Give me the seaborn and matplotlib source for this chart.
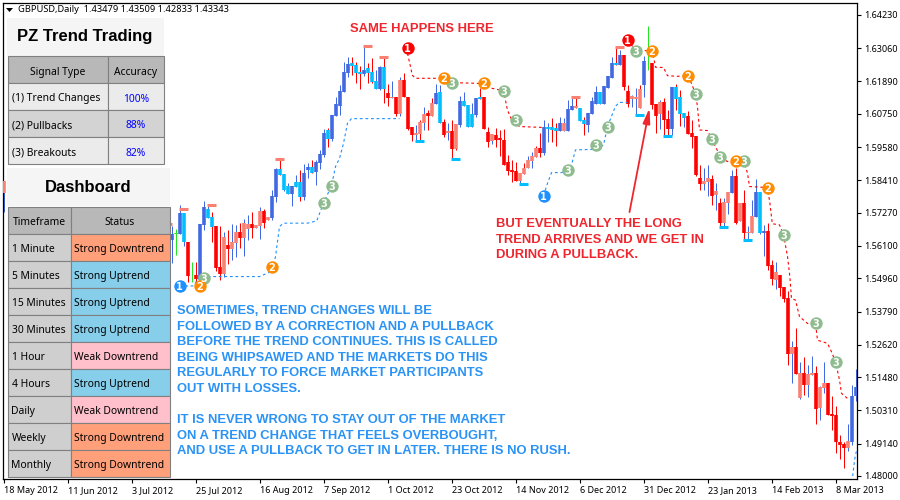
import matplotlib
matplotlib.use('Agg')
import matplotlib.pyplot as plt
from matplotlib.patches import Rectangle, Polygon
import numpy as np
import pandas as pd
import seaborn as sns

# bars are numbered from the first tick label, only the visible ones are listed
bar_pos = [0] + list(range(42, 214))
body_top = [1.5838,
    1.5652, 1.5654, 1.5726, 1.5726, 1.5624, 1.5505, 1.5507, 1.5687, 1.5747, 1.5739,
    1.5712, 1.5680, 1.5536, 1.5642, 1.5613, 1.5624, 1.5659, 1.5659, 1.5691, 1.5687,
    1.5687, 1.5684, 1.5733, 1.5733, 1.5712, 1.5786, 1.5881, 1.5881, 1.5863, 1.5821,
    1.5821, 1.5835, 1.5835, 1.5867, 1.5888, 1.5888, 1.5905, 1.5934, 1.6008, 1.6018,
    1.6071, 1.6110, 1.6155, 1.6222, 1.6250, 1.6254, 1.6247, 1.6222, 1.6229, 1.6236,
    1.6222, 1.6191, 1.6240, 1.6240, 1.6148, 1.6134, 1.6134, 1.6194, 1.6194, 1.6133,
    1.6028, 1.6007, 1.6046, 1.6074, 1.6078, 1.6112, 1.6148, 1.6152, 1.6046, 1.6014,
    1.6014, 1.6039, 1.6120, 1.6120, 1.6106, 1.6074, 1.6131, 1.6134, 1.6134, 1.6011,
    1.6004, 1.6000, 1.5990, 1.5983, 1.5905, 1.5877, 1.5874, 1.5867, 1.5884, 1.5912,
    1.5926, 1.5955, 1.5955, 1.6028, 1.6028, 1.6028, 1.6025, 1.6043, 1.6043, 1.6092,
    1.6102, 1.6102, 1.6095, 1.6053, 1.6078, 1.6120, 1.6152, 1.6152, 1.6173, 1.6208,
    1.6254, 1.6254, 1.6282, 1.6282, 1.6155, 1.6138, 1.6135, 1.6162, 1.6261, 1.6252,
    1.6254, 1.6110, 1.6117, 1.6117, 1.6057, 1.6170, 1.6170, 1.6134, 1.6078, 1.6068,
    1.6008, 1.5997, 1.5849, 1.5839, 1.5849, 1.5846, 1.5804, 1.5761, 1.5765, 1.5800,
    1.5856, 1.5856, 1.5761, 1.5761, 1.5659, 1.5716, 1.5800, 1.5800, 1.5663, 1.5663,
    1.5542, 1.5518, 1.5507, 1.5465, 1.5426, 1.5254, 1.5254, 1.5162, 1.5162, 1.5159,
    1.5162, 1.5162, 1.5113, 1.5127, 1.5127, 1.5018, 1.5015, 1.4920, 1.4912, 1.4923,
    1.5081, 1.5113]
body_bottom = [1.5796,
    1.5631, 1.5653, 1.5652, 1.5622, 1.5504, 1.5504, 1.5493, 1.5490, 1.5684, 1.5708,
    1.5678, 1.5531, 1.5511, 1.5511, 1.5599, 1.5599, 1.5620, 1.5638, 1.5638, 1.5670,
    1.5673, 1.5673, 1.5680, 1.5691, 1.5701, 1.5707, 1.5782, 1.5859, 1.5807, 1.5793,
    1.5793, 1.5818, 1.5782, 1.5782, 1.5877, 1.5867, 1.5870, 1.5902, 1.5930, 1.5986,
    1.5986, 1.6067, 1.6103, 1.6152, 1.6219, 1.6243, 1.6219, 1.6215, 1.6215, 1.6219,
    1.6187, 1.6162, 1.6162, 1.6162, 1.6131, 1.6130, 1.6074, 1.6074, 1.6134, 1.6021,
    1.6000, 1.6000, 1.6004, 1.6043, 1.6067, 1.6067, 1.6109, 1.6043, 1.6000, 1.6007,
    1.5951, 1.5951, 1.6036, 1.6102, 1.6028, 1.6028, 1.6071, 1.6127, 1.6021, 1.5976,
    1.5979, 1.5983, 1.5983, 1.5895, 1.5874, 1.5870, 1.5838, 1.5838, 1.5863, 1.5884,
    1.5909, 1.5923, 1.5937, 1.5937, 1.6021, 1.6018, 1.6014, 1.6014, 1.6014, 1.6014,
    1.6088, 1.6095, 1.6050, 1.6039, 1.6036, 1.6074, 1.6109, 1.6109, 1.6109, 1.6166,
    1.6201, 1.6247, 1.6247, 1.6169, 1.6109, 1.6127, 1.6128, 1.6095, 1.6176, 1.6251,
    1.6106, 1.6068, 1.6075, 1.6053, 1.6022, 1.6022, 1.6127, 1.6075, 1.6060, 1.6004,
    1.5994, 1.5860, 1.5828, 1.5828, 1.5835, 1.5786, 1.5790, 1.5691, 1.5691, 1.5761,
    1.5797, 1.5691, 1.5698, 1.5656, 1.5656, 1.5656, 1.5712, 1.5656, 1.5656, 1.5540,
    1.5493, 1.5490, 1.5461, 1.5423, 1.5229, 1.5229, 1.5159, 1.5074, 1.5120, 1.5120,
    1.5155, 1.5036, 1.5039, 1.5110, 1.5015, 1.5011, 1.4920, 1.4909, 1.4898, 1.4898,
    1.4920, 1.5081]
high = [1.5838,
    1.5680, 1.5669, 1.5754, 1.5726, 1.5624, 1.5552, 1.5552, 1.5687, 1.5767, 1.5754,
    1.5731, 1.5680, 1.5680, 1.5659, 1.5666, 1.5687, 1.5684, 1.5692, 1.5704, 1.5719,
    1.5730, 1.5684, 1.5747, 1.5740, 1.5712, 1.5807, 1.5884, 1.5917, 1.5863, 1.5830,
    1.5821, 1.5860, 1.5877, 1.5897, 1.5901, 1.5913, 1.5913, 1.5948, 1.6022, 1.6024,
    1.6071, 1.6135, 1.6176, 1.6257, 1.6274, 1.6276, 1.6257, 1.6243, 1.6314, 1.6253,
    1.6271, 1.6229, 1.6243, 1.6274, 1.6180, 1.6191, 1.6134, 1.6205, 1.6218, 1.6133,
    1.6028, 1.6036, 1.6053, 1.6098, 1.6088, 1.6129, 1.6180, 1.6176, 1.6055, 1.6041,
    1.6053, 1.6039, 1.6138, 1.6153, 1.6106, 1.6112, 1.6131, 1.6166, 1.6134, 1.6030,
    1.6004, 1.6024, 1.6018, 1.6020, 1.5930, 1.5912, 1.5906, 1.5867, 1.5902, 1.5926,
    1.5940, 1.5962, 1.6006, 1.6053, 1.6041, 1.6060, 1.6041, 1.6065, 1.6059, 1.6123,
    1.6129, 1.6133, 1.6095, 1.6065, 1.6078, 1.6133, 1.6174, 1.6152, 1.6173, 1.6208,
    1.6275, 1.6309, 1.6299, 1.6282, 1.6176, 1.6141, 1.6165, 1.6176, 1.6278, 1.6384,
    1.6254, 1.6110, 1.6124, 1.6130, 1.6089, 1.6170, 1.6180, 1.6159, 1.6078, 1.6086,
    1.6053, 1.5997, 1.5895, 1.5885, 1.5895, 1.5860, 1.5833, 1.5778, 1.5778, 1.5800,
    1.5878, 1.5883, 1.5761, 1.5807, 1.5680, 1.5772, 1.5845, 1.5800, 1.5684, 1.5692,
    1.5560, 1.5554, 1.5507, 1.5465, 1.5451, 1.5275, 1.5321, 1.5201, 1.5219, 1.5190,
    1.5222, 1.5187, 1.5117, 1.5201, 1.5127, 1.5081, 1.5046, 1.4944, 1.4920, 1.4983,
    1.5120, 1.5176]
low = [1.5729,
    1.5551, 1.5578, 1.5652, 1.5610, 1.5484, 1.5484, 1.5479, 1.5484, 1.5666, 1.5708,
    1.5624, 1.5520, 1.5490, 1.5502, 1.5547, 1.5561, 1.5572, 1.5602, 1.5575, 1.5631,
    1.5637, 1.5673, 1.5635, 1.5673, 1.5701, 1.5701, 1.5765, 1.5859, 1.5802, 1.5793,
    1.5752, 1.5818, 1.5768, 1.5772, 1.5849, 1.5867, 1.5825, 1.5881, 1.5924, 1.5959,
    1.5979, 1.6067, 1.6071, 1.6152, 1.6206, 1.6212, 1.6185, 1.6162, 1.6208, 1.6182,
    1.6182, 1.6162, 1.6159, 1.6114, 1.6103, 1.6130, 1.6067, 1.6067, 1.6134, 1.6018,
    1.5979, 1.5979, 1.5983, 1.6018, 1.6018, 1.6067, 1.6109, 1.6043, 1.5994, 1.5983,
    1.5912, 1.5948, 1.6027, 1.6102, 1.6028, 1.6028, 1.6065, 1.6127, 1.6021, 1.5959,
    1.5969, 1.5959, 1.5926, 1.5895, 1.5860, 1.5836, 1.5838, 1.5828, 1.5863, 1.5884,
    1.5883, 1.5923, 1.5924, 1.5930, 1.5977, 1.5977, 1.5962, 1.6014, 1.6014, 1.6014,
    1.6088, 1.6095, 1.6050, 1.6000, 1.6011, 1.6074, 1.6109, 1.6109, 1.6109, 1.6166,
    1.6201, 1.6247, 1.6247, 1.6159, 1.6098, 1.6100, 1.6071, 1.6095, 1.6135, 1.6229,
    1.6091, 1.6009, 1.6021, 1.6001, 1.5995, 1.6001, 1.6089, 1.6032, 1.6030, 1.6004,
    1.5955, 1.5856, 1.5805, 1.5807, 1.5784, 1.5754, 1.5737, 1.5680, 1.5680, 1.5723,
    1.5797, 1.5688, 1.5698, 1.5631, 1.5631, 1.5656, 1.5712, 1.5652, 1.5573, 1.5526,
    1.5472, 1.5458, 1.5433, 1.5412, 1.5190, 1.5127, 1.5159, 1.5071, 1.5085, 1.5078,
    1.5155, 1.4983, 1.4997, 1.5091, 1.5015, 1.4962, 1.4881, 1.4860, 1.4828, 1.4888,
    1.4909, 1.5064]
# b royal blue, c sky blue, r red, s salmon, g lime (doji)
body_kind = ('s'
    'bgbcrgrbbc' 'crrsrssrss' 'rssrsbbccc' 'bccbbcbbbc' 'bbbbbcccbc'
    'ccbcrsrsrr' 'rsssrsbcrs' 'rsbcccbcrr' 'srrrrrrsss' 'ssrbcccbsb'
    'bsccbbbcbb' 'bcbrrsssbg' 'rrsrrbcccr' 'rrrssrsrss' 'brsrssbcbr'
    'rsrrrsrsrs' 'srssrrrrrs' 'bb')
wick_kind = ('b'
    'bgbbrgrbbb' 'rrrbrbbrbb' 'rbbrrbbrbb' 'bbrbbrbbbr' 'bbbbbrrrbr'
    'rbbrrbrbrr' 'rbrbrrbbrb' 'rrbbbbbrrr' 'brrrrrrbrb' 'brrbbrrbbb'
    'brbrbbbbbb' 'brbrrbbrbg' 'rrbrrbrrbr' 'rrrbbrbrbb' 'brrrbbbbbr'
    'rbrrrbrbrb' 'brbbrrrrrb' 'bb')

top_mark_bar = [41, 45, 52, 69, 91, 95, 143, 154]
top_mark_price = [1.5686, 1.5739, 1.5753, 1.5915, 1.6314, 1.6274, 1.6134, 1.6309]
low_mark_bar = [104, 113, 130, 159, 166, 180, 186]
low_mark_price = [1.5978, 1.5915, 1.5828, 1.6070, 1.5996, 1.5676, 1.5630]

# trailing stops
blue_stop_bar = [44, 47.5, 49, 64, 67, 68, 69, 70, 76, 78.3, 80, 82, 83, 84, 85, 86, 87, 99]
blue_stop_price = [1.5469, 1.5469, 1.5502, 1.5502, 1.5520, 1.5572, 1.5678, 1.5690, 1.5690,
                   1.5698, 1.5760, 1.5822, 1.5889, 1.5918, 1.5971, 1.6042, 1.6058, 1.6058]
blue_stop2_bar = [135, 136, 137, 139.5, 141, 142, 143, 148, 150, 151, 153, 154, 156]
blue_stop2_price = [1.5787, 1.5830, 1.5868, 1.5868, 1.5877, 1.5895, 1.5948, 1.5950,
                    1.5965, 1.6030, 1.6102, 1.6115, 1.6115]
blue_stop3_bar = [212.3, 212.8, 213.3]
blue_stop3_price = [1.4800, 1.4860, 1.4892]
red_stop_bar = [101, 101.6, 102.2, 103, 108.4, 110, 112, 118.8, 120, 122, 125, 126, 127, 129, 135]
red_stop_price = [1.6288, 1.6250, 1.6211, 1.6200, 1.6200, 1.6196, 1.6185, 1.6182, 1.6185,
                  1.6165, 1.6156, 1.6088, 1.6055, 1.6030, 1.6027]
red_stop2_bar = [156, 157, 158, 162, 162.5, 163, 165, 166, 168.5, 171, 172, 173, 173.5, 174,
                 176, 177, 178.6, 179, 181, 183, 185, 186, 186.5, 189, 191, 191.6, 192.2, 194,
                 195, 196, 196.6, 197, 198, 199, 201, 203, 203.5, 206, 207, 208, 209, 209.5, 211]
red_stop2_price = [1.6335, 1.6317, 1.6299, 1.6296, 1.6276, 1.6239, 1.6238, 1.6209, 1.6207,
                   1.6208, 1.6182, 1.6145, 1.6100, 1.6018, 1.6016, 1.5987, 1.5942, 1.5922,
                   1.5907, 1.5910, 1.5910, 1.5866, 1.5819, 1.5817, 1.5815, 1.5760, 1.5688,
                   1.5684, 1.5649, 1.5573, 1.5500, 1.5425, 1.5419, 1.5361, 1.5337, 1.5337,
                   1.5278, 1.5267, 1.5237, 1.5202, 1.5138, 1.5091, 1.5073]

# signal circles
sig_blue_bar = [44, 135]
sig_blue_price = [1.5469, 1.5786]
sig_red_bar = [101, 156]
sig_red_price = [1.6307, 1.6335]
sig_orange_bar = [49, 67, 110, 120, 162, 171, 183, 191]
sig_orange_price = [1.5469, 1.5536, 1.6201, 1.6183, 1.6296, 1.6208, 1.5909, 1.5814]
sig_green_bar = [50, 80, 82, 112, 125, 128, 141, 148, 151, 158, 173, 177, 179, 185, 195, 203, 208]
sig_green_price = [1.5497, 1.5761, 1.5821, 1.6183, 1.6155, 1.6053, 1.5877, 1.5965, 1.6028,
                   1.6296, 1.6145, 1.5986, 1.5923, 1.5909, 1.5648, 1.5339, 1.5201]

arrow_tail = (156.5, 1.5729)
arrow_tip = (161.5, 1.6095)

price_ticks = [1.64230, 1.63060, 1.61890, 1.60750, 1.59580, 1.58410, 1.57270, 1.56100,
               1.54960, 1.53790, 1.52620, 1.51480, 1.50310, 1.49140, 1.48000]
date_ticks = list(range(0, 224, 16))
date_labels = ['18 May 2012', '11 Jun 2012', '3 Jul 2012', '25 Jul 2012', '16 Aug 2012',
               '7 Sep 2012', '1 Oct 2012', '23 Oct 2012', '14 Nov 2012', '6 Dec 2012',
               '31 Dec 2012', '23 Jan 2013', '14 Feb 2013', '8 Mar 2013']

header_text = 'GBPUSD,Daily  1.43479 1.43509 1.42833 1.43343'
accuracy_rows = ['(1) Trend Changes', '(2) Pullbacks', '(3) Breakouts']
accuracy_vals = ['100%', '88%', '82%']
dash_frames = ['1 Minute', '5 Minutes', '15 Minutes', '30 Minutes', '1 Hour', '4 Hours',
               'Daily', 'Weekly', 'Monthly']
dash_status = ['Strong Downtrend', 'Strong Uptrend', 'Strong Uptrend', 'Strong Uptrend',
               'Weak Downtrend', 'Strong Uptrend', 'Weak Downtrend', 'Strong Downtrend',
               'Strong Downtrend']
blue_note = ['SOMETIMES, TREND CHANGES WILL BE', 'FOLLOWED BY A CORRECTION AND A PULLBACK',
             'BEFORE THE TREND CONTINUES. THIS IS CALLED', 'BEING WHIPSAWED AND THE MARKETS DO THIS',
             'REGULARLY TO FORCE MARKET PARTICIPANTS', 'OUT WITH LOSSES.', '',
             'IT IS NEVER WRONG TO STAY OUT OF THE MARKET', 'ON A TREND CHANGE THAT FEELS OVERBOUGHT,',
             'AND USE A PULLBACK TO GET IN LATER. THERE IS NO RUSH.']
red_note = ['BUT EVENTUALLY THE LONG', 'TREND ARRIVES AND WE GET IN', 'DURING A PULLBACK.']

COLORS = {'b': '#4169E1', 'c': '#00BFFF', 'r': '#FF0000', 's': '#FA8072', 'g': '#22E622'}
STATUS_COLORS = {'Strong Downtrend': '#FFA07A', 'Strong Uptrend': '#87CEEB', 'Weak Downtrend': '#FFC0CB'}

sns.set_theme(style='white')
plt.rcParams['font.family'] = ['Noto Sans', 'DejaVu Sans']
UI_SIZE = 7.4
TICK_SIZE = 6.5

bars = pd.DataFrame({'bar': bar_pos, 'top': body_top, 'bottom': body_bottom, 'high': high, 'low': low,
                     'body': [COLORS[k] for k in body_kind], 'wick': [COLORS[k] for k in wick_kind]})

fig = plt.figure(figsize=(9, 5), dpi=100, facecolor='white')
ax = fig.add_axes([3 / 900, 1 - 479 / 500, 854 / 900, 476 / 500])

# wicks 1px, bodies a bit over 3px
ax.vlines(bars['bar'], bars['low'], bars['high'], colors=bars['wick'], linewidth=0.72, zorder=2)
ax.vlines(bars['bar'], bars['bottom'], bars['top'], colors=bars['body'], linewidth=2.6,
          capstyle='butt', zorder=3)
ax.hlines(top_mark_price, np.array(top_mark_bar) - 1.1, np.array(top_mark_bar) + 1.1,
          colors=COLORS['s'], linewidth=2.2, zorder=4)
ax.hlines(low_mark_price, np.array(low_mark_bar) - 1.1, np.array(low_mark_bar) + 1.1,
          colors=COLORS['c'], linewidth=2.2, zorder=4)

for xs, ys, col in [(blue_stop_bar, blue_stop_price, '#1E90FF'), (blue_stop2_bar, blue_stop2_price, '#1E90FF'),
                    (blue_stop3_bar, blue_stop3_price, '#1E90FF'), (red_stop_bar, red_stop_price, '#FF0000'),
                    (red_stop2_bar, red_stop2_price, '#FF0000')]:
    sns.lineplot(x=xs, y=ys, color=col, linewidth=0.8, linestyle=(0, (2.5, 2.5)), sort=False,
                 estimator=None, ax=ax, zorder=4)

for xs, ys, col, num in [(sig_blue_bar, sig_blue_price, '#1E90FF', '1'), (sig_red_bar, sig_red_price, '#FF0000', '1'),
                         (sig_green_bar, sig_green_price, '#8FBC8F', '3'),
                         (sig_orange_bar, sig_orange_price, '#FF8C00', '2')]:
    sns.scatterplot(x=xs, y=ys, color=col, s=80, marker='o', linewidth=0, ax=ax, zorder=5)
    for x, y in zip(xs, ys):
        ax.text(x, y, num, color='white', fontsize=7, fontweight='bold', ha='center', va='center_baseline', zorder=6,
                family='DejaVu Sans')

ax.annotate('', xy=arrow_tip, xytext=arrow_tail, zorder=6,
            arrowprops=dict(arrowstyle='-|>,head_width=0.18,head_length=0.75', color='#F0262E', lw=1.3,
                            shrinkA=0, shrinkB=0))

ax.set_xlim(-0.125, 213.375)
ax.set_ylim(1.47894, 1.6465)
ax.yaxis.tick_right()
ax.set_yticks(price_ticks)
ax.set_yticklabels(['%.5f' % p for p in price_ticks])
ax.set_xticks(date_ticks)
ax.set_xticklabels(date_labels, ha='left')
ax.tick_params(axis='both', length=3, width=0.8, color='black', labelcolor='black', labelsize=TICK_SIZE,
               pad=2, bottom=True, right=True)
for s in ax.spines.values():
    s.set_visible(True)
    s.set_color('black')
    s.set_linewidth(0.9)

# overlay in pixels for the panels and notes
ui = fig.add_axes([0, 0, 1, 1], facecolor='none')
ui.set_xlim(0, 900)
ui.set_ylim(500, 0)
ui.axis('off')


def cell(x0, y0, x1, y1, color, label, align='center', text_color='black', size=UI_SIZE):
    ui.add_patch(Rectangle((x0, y0), x1 - x0, y1 - y0, facecolor=color, edgecolor='#808080', linewidth=0.8))
    tx = (x0 + x1) / 2 if align == 'center' else x0 + 4
    ui.text(tx, (y0 + y1) / 2 + 1, label, ha=align, va='center_baseline', color=text_color, fontsize=size)


ui.add_patch(Polygon([(6, 8), (13, 8), (9.5, 12)], closed=True, facecolor='black', edgecolor='none'))
ui.text(18, 10, header_text, ha='left', va='center', fontsize=TICK_SIZE + 0.2, color='black')

ui.add_patch(Rectangle((7, 18), 157, 38, facecolor='#F5F5F5', edgecolor='none'))
ui.text(85, 37, 'PZ Trend Trading', ha='center', va='center', fontsize=12, fontweight='bold',
        color='black', family='Liberation Sans')
cell(7.5, 56, 108, 83, '#B8B8B8', 'Signal Type')
cell(108, 56, 163.5, 83, '#B8B8B8', 'Accuracy')
for n, (name, val) in enumerate(zip(accuracy_rows, accuracy_vals)):
    y0 = 83 + n * 27
    shade = '#EBEBEB' if n % 2 == 0 else '#D3D3D3'
    cell(7.5, y0, 108, y0 + 27, shade, name, align='left')
    cell(108, y0, 163.5, y0 + 27, shade, val, text_color='#0000FF')

ui.add_patch(Rectangle((7, 168), 163, 38, facecolor='#F5F5F5', edgecolor='none'))
ui.text(88, 187, 'Dashboard', ha='center', va='center', fontsize=12, fontweight='bold',
        color='black', family='Liberation Sans')
cell(7.5, 206.5, 70.5, 233.5, '#B8B8B8', 'Timeframe')
cell(70.5, 206.5, 169.5, 233.5, '#B8B8B8', 'Status')
for n, (name, status) in enumerate(zip(dash_frames, dash_status)):
    y0 = 233.5 + n * 27
    cell(7.5, y0, 70.5, y0 + 27, '#CFCFCF', name, align='left')
    cell(70.5, y0, 169.5, y0 + 27, STATUS_COLORS[status], status, align='left')

NOTE = dict(ha='left', va='center', fontweight='bold', fontsize=9.35, family='Liberation Sans')
for n, line in enumerate(blue_note):
    ui.text(177, 311 + n * 15.6, line, color='#2A93F5', **NOTE)
for n, line in enumerate(red_note):
    ui.text(496, 224 + n * 15.6, line, color='#F0262E', **NOTE)
ui.text(350, 29, 'SAME HAPPENS HERE', color='#F0262E', **NOTE)

fig.savefig('out.png', dpi=100)
